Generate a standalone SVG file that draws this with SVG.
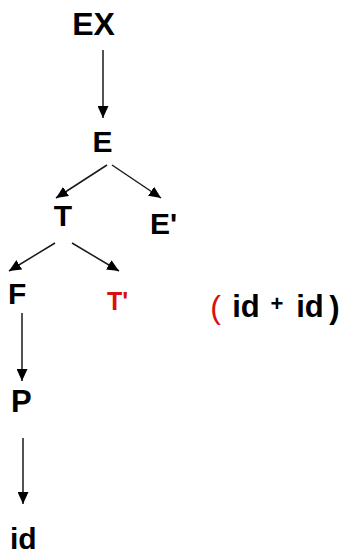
<svg xmlns="http://www.w3.org/2000/svg" width="344" height="554" viewBox="0 0 344 554">
<style>
.n{font-family:"Liberation Sans",Arial,sans-serif;font-weight:bold;font-size:30px;fill:#000}
.red{fill:#d81010}
.c line{stroke:#1a1a1a;stroke-width:1.5;fill:none}
</style>
<defs>
<marker id="ah" markerUnits="userSpaceOnUse" markerWidth="13" markerHeight="11" refX="12" refY="5.5" orient="auto">
<path d="M0,0 L12,5.5 L0,11 Z" fill="#000"/>
</marker>
</defs>
<rect width="344" height="554" fill="#fff"/>
<g class="c" id="connectors">
<line x1="103" y1="50" x2="103" y2="118" marker-end="url(#ah)"/>
<line x1="107" y1="165" x2="56" y2="198" marker-end="url(#ah)"/>
<line x1="112" y1="165" x2="161" y2="198" marker-end="url(#ah)"/>
<line x1="55" y1="243" x2="9" y2="271" marker-end="url(#ah)"/>
<line x1="72" y1="243" x2="119" y2="271" marker-end="url(#ah)"/>
<line x1="22" y1="313" x2="22" y2="381" marker-end="url(#ah)"/>
<line x1="23" y1="438" x2="23" y2="504" marker-end="url(#ah)"/>
</g>
<g id="EX"><text class="n" x="93.5" y="35" text-anchor="middle" style="font-size:32px">EX</text></g>
<g id="E"><text class="n" x="102.5" y="152" text-anchor="middle">E</text></g>
<g id="T"><text class="n" x="63" y="226" text-anchor="middle">T</text></g>
<g id="Eprime"><text class="n" x="150" y="234">E'</text></g>
<g id="F"><text class="n" x="8" y="304">F</text></g>
<g id="Tprime"><text class="n red" x="107" y="310" style="font-size:25px">T'</text></g>
<g id="P"><text class="n" x="11" y="412" style="font-size:31px">P</text></g>
<g id="id"><text class="n" x="10" y="549">id</text></g>
<g id="input">
<text class="n red" x="215.5" y="318" text-anchor="middle" style="font-weight:normal;font-size:32px">(</text>
<text class="n" x="246" y="317" text-anchor="middle" style="font-size:31px">id</text>
<text class="n" x="277" y="311" text-anchor="middle" style="font-size:22px">+</text>
<text class="n" x="310" y="317" text-anchor="middle" style="font-size:31px">id</text>
<text class="n" x="334.5" y="318" text-anchor="middle" style="font-size:31px">)</text>
</g>
</svg>
